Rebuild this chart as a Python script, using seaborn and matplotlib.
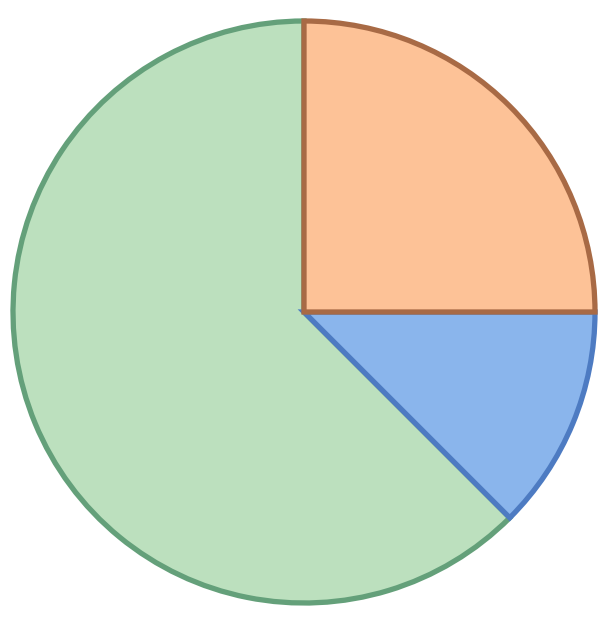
import matplotlib
matplotlib.use('Agg')
import matplotlib.pyplot as plt
import seaborn as sns

labels = ['Orange', 'Blue', 'Green']
values = [25, 12.5, 62.5]
fills = ['#FDC297', '#8AB5EC', '#BCE0BE']
edges = ['#A86A45', '#4D7BC2', '#64A07A']

sns.set_theme(style='white')

fig = plt.figure(figsize=(6.06, 6.23), dpi=100)
ax = fig.add_axes([13 / 606, 20 / 623, 582 / 606, 582 / 623])

wedges, _ = ax.pie(values, colors=fills, startangle=90, counterclock=False,
                   radius=1, wedgeprops=dict(linewidth=3.8))
for w, ec, z in zip(wedges, edges, [3, 2, 1]):
    w.set_edgecolor(ec)
    w.set_zorder(z)

ax.set_xlim(-1.0, 1.0)
ax.set_ylim(-1.0, 1.0)
ax.set_aspect('equal')
ax.axis('off')

fig.savefig('out.png', dpi=100)
plt.close()
